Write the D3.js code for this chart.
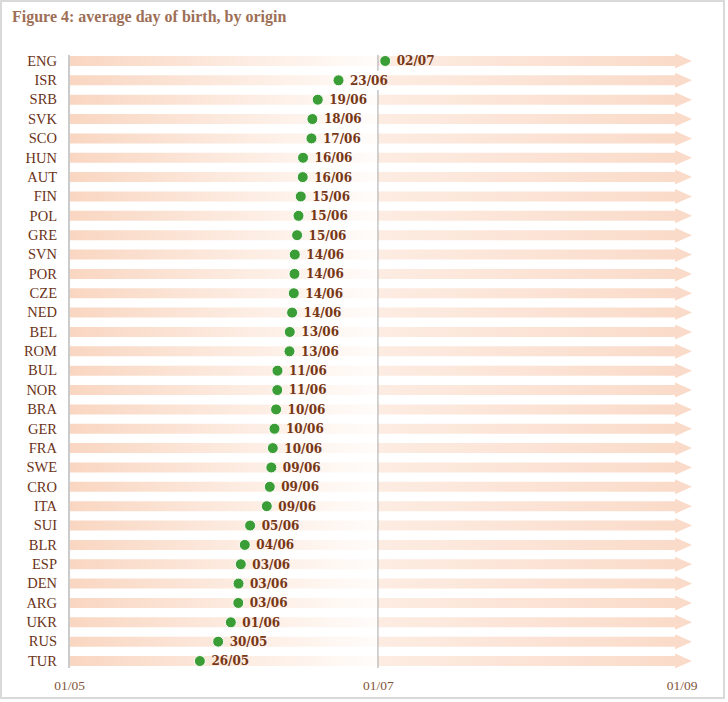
<!DOCTYPE html>
<html>
<head>
<meta charset="utf-8">
<script src="https://cdn.jsdelivr.net/npm/d3@7"></script>
<style>
  html, body { margin: 0; padding: 0; background: #fff; }
  svg { display: block; }
</style>
</head>
<body>
<svg id="chart"></svg>
<script>
// country codes, top to bottom
const origins = ["ENG", "ISR", "SRB", "SVK", "SCO", "HUN", "AUT", "FIN", "POL", "GRE",
    "SVN", "POR", "CZE", "NED", "BEL", "ROM", "BUL", "NOR", "BRA", "GER",
    "FRA", "SWE", "CRO", "ITA", "SUI", "BLR", "ESP", "DEN", "ARG", "UKR",
    "RUS", "TUR"];

// average day of birth, as days after 1 May
const daysAfterMay1 = [62.43, 53.21, 49.11, 48.05, 47.87, 46.21, 46.15, 45.76, 45.31, 45.03,
    44.58, 44.52, 44.38, 44.05, 43.59, 43.53, 41.16, 41.12, 40.89, 40.57,
    40.24, 39.95, 39.64, 39.05, 35.76, 34.71, 33.92, 33.47, 33.42, 31.95,
    29.45, 25.84];

const tickLabels = ["01/05", "01/07", "01/09"];
const title = "Figure 4: average day of birth, by origin";

const W = 728, H = 702;
const may1 = Date.UTC(2012, 4, 1);
const toDate = d => new Date(may1 + d * 864e5);
const parseTick = d3.utcParse("%d/%m/%Y");
const fmt = d3.utcFormat("%d/%m");

const data = origins.map((o, i) => ({ origin: o, date: toDate(daysAfterMay1[i]) }));
const tickDates = tickLabels.map(t => parseTick(t + "/2012"));

const svg = d3.select("#chart").attr("width", W).attr("height", H);

// frame
svg.append("rect")
    .attr("x", 1).attr("y", 1)
    .attr("width", 723).attr("height", 697)
    .attr("fill", "#fff")
    .attr("stroke", "#d9d9d9")
    .attr("stroke-width", 2);

svg.append("text")
    .attr("x", 12).attr("y", 22)
    .attr("font-family", "'Liberation Serif', serif")
    .attr("font-weight", "bold")
    .attr("font-size", 16)
    .attr("fill", "#9e6f57")
    .text(title);

const x = d3.scaleUtc()
    .domain([tickDates[0], tickDates[2]])
    .range([69, 692]);

const y = d3.scalePoint()
    .domain(origins)
    .range([51.3, 670.7])
    .padding(0.5);

const step = y.step();
const barH = 10, headH = 15, headL = 17;

// bar gradient: pink fading to white up to 01/07, then pink again
const x0 = x.range()[0], x1 = x.range()[1];
const mid = (x(tickDates[1]) - x0) / (x1 - x0);
const grad = svg.append("defs").append("linearGradient")
    .attr("id", "barGrad")
    .attr("gradientUnits", "userSpaceOnUse")
    .attr("x1", x0).attr("x2", x1).attr("y1", 0).attr("y2", 0);
grad.append("stop").attr("offset", 0).attr("stop-color", "#f9d6c1");
grad.append("stop").attr("offset", mid * 0.75).attr("stop-color", "#fef3ec");
grad.append("stop").attr("offset", mid).attr("stop-color", "#fffcfa");
grad.append("stop").attr("offset", mid).attr("stop-color", "#fdece2");
grad.append("stop").attr("offset", 1).attr("stop-color", "#fadac8");

const chart = svg.append("g");

chart.selectAll("path.bar")
    .data(data)
    .join("path")
    .attr("class", "bar")
    .attr("fill", "url(#barGrad)")
    .attr("d", d => {
        const cy = y(d.origin);
        const xs = x0 + 1, xe = x1;
        return `M${xs},${cy - barH / 2}H${xe - headL}V${cy - headH / 2}L${xe},${cy}` +
            `L${xe - headL},${cy + headH / 2}V${cy + barH / 2}H${xs}Z`;
    });

// left axis line
const yTop = y(origins[0]) - 6, yBot = y(origins[origins.length - 1]) + 7;
chart.append("line")
    .attr("x1", x0).attr("x2", x0)
    .attr("y1", yTop).attr("y2", yBot)
    .attr("stroke", "#a8a8a8").attr("stroke-width", 1.2);

// date labels (drawn first so the gridline can skip rows they cover)
const labels = chart.selectAll("text.val")
    .data(data)
    .join("text")
    .attr("class", "val")
    .attr("x", d => x(d.date) + 11.5)
    .attr("y", d => y(d.origin) + 4.4)
    .attr("font-family", "'DejaVu Serif', serif")
    .attr("font-weight", "bold")
    .attr("font-size", 12)
    .attr("fill", "#763716")
    .text(d => fmt(d.date));

// 01/07 gridline, in row pieces, left out where a label sits on it
const gx = x(tickDates[1]);
const pieces = [];
labels.each(function (d) {
    const lx = x(d.date) + 11.5, lw = this.getComputedTextLength();
    if (lx < gx && lx + lw > gx) return;
    const cy = y(d.origin);
    pieces.push([Math.max(yTop, cy - step / 2), Math.min(yBot, cy + step / 2)]);
});
chart.selectAll("line.grid")
    .data(pieces)
    .join("line")
    .attr("class", "grid")
    .attr("x1", gx).attr("x2", gx)
    .attr("y1", p => p[0]).attr("y2", p => p[1])
    .attr("stroke", "#a8a8a8").attr("stroke-width", 1);

chart.selectAll("circle.dot")
    .data(data)
    .join("circle")
    .attr("class", "dot")
    .attr("cx", d => x(d.date))
    .attr("cy", d => y(d.origin))
    .attr("r", 5.5)
    .attr("fill", "#3a9d35")
    .attr("stroke", "#fff")
    .attr("stroke-width", 1);

// category labels
chart.selectAll("text.cat")
    .data(origins)
    .join("text")
    .attr("class", "cat")
    .attr("x", x0 - 12)
    .attr("y", d => y(d) + 4.8)
    .attr("text-anchor", "end")
    .attr("font-family", "'Liberation Serif', serif")
    .attr("font-size", 14.5)
    .attr("fill", "#6b3318")
    .text(d => d);

// bottom ticks
const xAxis = svg.append("g")
    .attr("transform", `translate(0,${yBot + 12})`)
    .call(d3.axisBottom(x).tickValues(tickDates).tickFormat(fmt).tickSize(0));
xAxis.select(".domain").remove();
xAxis.selectAll("text")
    .attr("font-family", "'Liberation Serif', serif")
    .attr("font-size", 13.5)
    .attr("fill", "#835439")
    .attr("dy", "0.55em");
xAxis.selectAll(".tick:last-of-type text")
    .attr("text-anchor", "end")
    .attr("dx", 5);
</script>
</body>
</html>
